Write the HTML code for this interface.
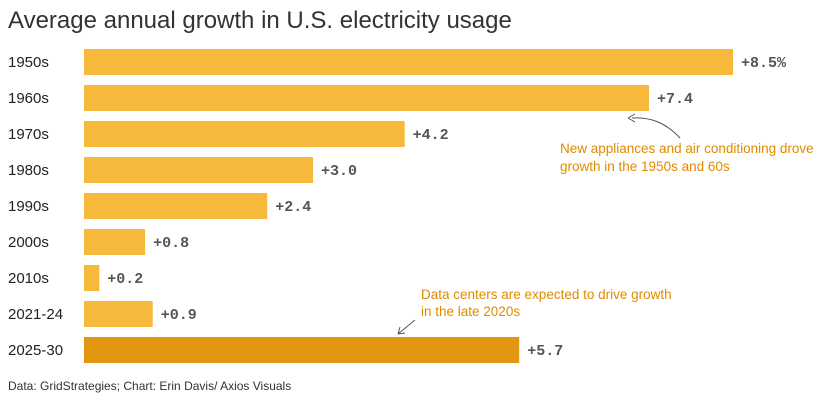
<!DOCTYPE html>
<html><head><meta charset="utf-8"><style>
body{margin:0;background:#fff;width:833px;height:405px;overflow:hidden;font-family:"Liberation Sans",sans-serif}
</style></head><body>
<svg width="833" height="405">
<text x="8" y="28" font-size="24" fill="#333">Average annual growth in U.S. electricity usage</text>
<g id="bars"></g>
<path d="M680,138 C665,122 650,117 632,118" fill="none" stroke="#555" stroke-width="1"/>
<path d="M628,118 L635,114 M628,118 L635,122" stroke="#555" fill="none"/>
<text x="560" y="153" font-size="13.5" fill="#e08a00"><tspan x="560">New appliances and air conditioning drove</tspan><tspan x="560" dy="18">growth in the 1950s and 60s</tspan></text>
<text x="421" y="299" font-size="13.5" fill="#e08a00"><tspan x="421">Data centers are expected to drive growth</tspan><tspan x="421" dy="17">in the late 2020s</tspan></text>
<path d="M415,320 L398,334 M398,334 L400,327 M398,334 L405,333" stroke="#555" fill="none"/>
<text x="8" y="390" font-size="12" fill="#333">Data: GridStrategies; Chart: Erin Davis/ Axios Visuals</text>
</svg>
<script>
const categories=["1950s","1960s","1970s","1980s","1990s","2000s","2010s","2021-24","2025-30"];
const values=[8.5,7.4,4.2,3.0,2.4,0.8,0.2,0.9,5.7];
const valueLabels=["+8.5%","+7.4","+4.2","+3.0","+2.4","+0.8","+0.2","+0.9","+5.7"];
const x0=84,scale=649/8.5,y0=62,step=36,bh=26;
const xs=v=>x0+v*scale, ys=i=>y0+i*step;
const g=document.getElementById('bars'),NS="http://www.w3.org/2000/svg";
categories.forEach((c,i)=>{
 const r=document.createElementNS(NS,'rect');
 r.setAttribute('x',x0);r.setAttribute('y',ys(i)-bh/2);
 r.setAttribute('width',xs(values[i])-x0);r.setAttribute('height',bh);
 r.setAttribute('fill',i===8?'#e3960f':'#f7b93b');
 
 
 g.appendChild(r);
 const t=document.createElementNS(NS,'text');
 t.setAttribute('x',8);t.setAttribute('y',ys(i)+5);t.setAttribute('font-size','15');t.setAttribute('fill','#222');
 t.textContent=c;
 
 
 g.appendChild(t);
 const v=document.createElementNS(NS,'text');
 v.setAttribute('x',xs(values[i])+8);v.setAttribute('y',ys(i)+5);v.setAttribute('font-size','15');
 v.setAttribute('fill','#555');v.setAttribute('font-weight','bold');v.setAttribute('font-family','Liberation Mono, monospace');
 v.textContent=valueLabels[i];
 
 
 g.appendChild(v);
});
</script>
</body></html>
